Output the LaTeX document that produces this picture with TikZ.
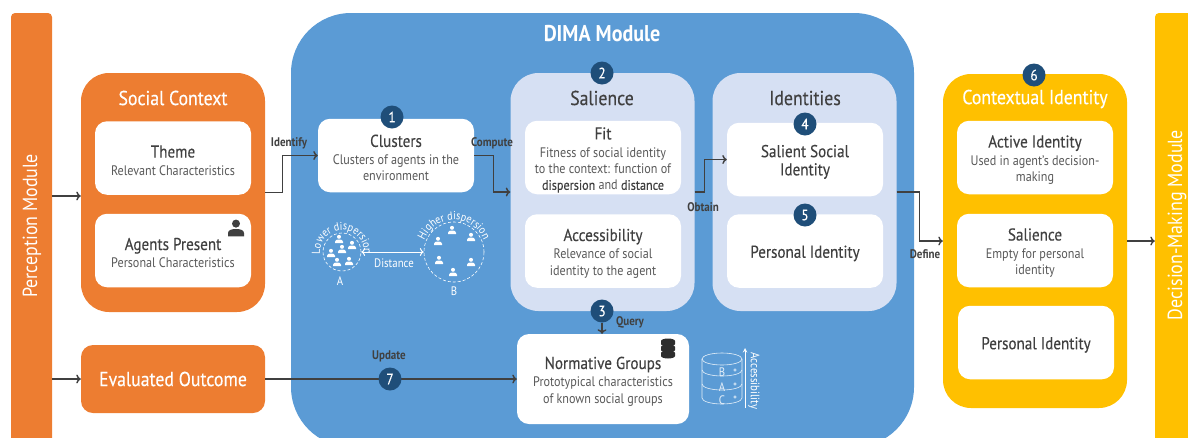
\documentclass[tikz,border=0pt]{standalone}
\usepackage{fontspec}
\setmainfont[FakeStretch=0.88]{PT Sans}
\newfontfamily\medfont[FakeStretch=0.88,FakeBold=0.25]{PT Sans}
\usetikzlibrary{arrows.meta,decorations.text}

\definecolor{orangebox}{HTML}{ED7D31}
\definecolor{bluebox}{HTML}{5B9BD5}
\definecolor{palebox}{HTML}{D6E0F3}
\definecolor{yellowbox}{HTML}{FFC000}
\definecolor{navy}{HTML}{1F4E79}
\definecolor{darktext}{HTML}{404040}
\definecolor{subtext}{HTML}{595959}

\newcommand{\boxhead}[1]{{\medfont\fontsize{17.2}{17}\selectfont\color{darktext}\rule{0pt}{17pt}#1}}
\newcommand{\boxterm}[1]{{\medfont\color{darktext}#1}}

\tikzset{
  panel/.style={rounded corners=28pt,minimum width=184pt,inner sep=0pt},
  card/.style={fill=white,rounded corners=12pt,minimum width=156pt,minimum height=73.5pt,inner sep=0pt,align=center,text=subtext,font=\fontsize{13.8}{16.3}\selectfont},
  badge/.style={circle,fill=navy,text=white,minimum size=23pt,inner sep=0pt,font=\medfont\fontsize{15}{15}\selectfont},
  paneltitle/.style={text=white,inner sep=0pt,font=\medfont\fontsize{20.2}{24}\selectfont},
  palete/.style={text=darktext,inner sep=0pt,font=\medfont\fontsize{20.2}{24}\selectfont},
  flow/.style={draw=darktext,line width=1.4pt,-{To[length=4.5pt,width=9pt]}},
  flowtag/.style={text=darktext,inner sep=0pt,font=\bfseries\fontsize{12.5}{14}\selectfont},
  icontext/.style={text=white,inner sep=0pt,font=\fontsize{12.3}{14}\selectfont},
  stackline/.style={draw=white!85!bluebox,line width=0.6pt},
  person/.pic={
    \fill (0,-2.2) circle (2pt);
    \fill (-4,4.2) -- (-4,2.6) .. controls (-4,0.9) and (-2,0.5) .. (0,0.5) .. controls (2,0.5) and (4,0.9) .. (4,2.6) -- (4,4.2) -- cycle;
  }
}

\begin{document}
\begin{tikzpicture}[x=1pt,y=-1pt]
\useasboundingbox (0,0) rectangle (1188,437);

% side modules
\node[fill=orangebox,rounded corners=4pt,minimum width=41pt,minimum height=440pt,inner sep=0pt] (perception) at (31.5,233) {};
\node[fill=yellowbox,rounded corners=4pt,minimum width=45pt,minimum height=440pt,inner sep=0pt] (decision) at (1177.5,233) {};
\node[rotate=90,text=white,inner sep=0pt,font=\fontsize{20.4}{24}\selectfont] (perceptionlbl) at (32,226) {Perception Module};
\node[rotate=90,text=white,inner sep=0pt,font=\fontsize{20.4}{24}\selectfont] (decisionlbl) at (1177,225) {Decision-Making Module};

% dima module
\node[fill=bluebox,rounded corners=60pt,minimum width=623pt,minimum height=434pt,inner sep=0pt] (dima) at (602.5,230) {};
\node[text=white,inner sep=0pt,font=\bfseries\fontsize{22.8}{26}\selectfont] (dimalbl) at (602,34) {DIMA Module};

% social context
\node[panel,fill=orangebox,minimum height=239pt] (social) at (173,192.5) {};
\node[paneltitle] (sociallbl) at (173,98) {Social Context};
\node[card] (theme) at (173,158) {\boxhead{Theme}\\[1.5pt]Relevant Characteristics};
\node[card] (agents) at (173,250.5) {\boxhead{Agents Present}\\[1.5pt]Personal Characteristics};
\pic[darktext,scale=2] at (236,228) {person};

% evaluated outcome
\node[fill=orangebox,rounded corners=12pt,minimum width=184pt,minimum height=68pt,inner sep=0pt,text=white,font=\medfont\fontsize{20.2}{24}\selectfont] (evaluated) at (173,379) {Evaluated Outcome};

% clusters
\node[card] (clusters) at (396,155.5) {\boxhead{Clusters}\\[1.5pt]Clusters of agents in the\\environment};
\node[circle,draw=white,densely dashed,line width=0.6pt,minimum size=38pt,inner sep=0pt] (groupa) at (342,252) {};
\node[circle,draw=white,densely dashed,line width=0.6pt,minimum size=60pt,inner sep=0pt] (groupb) at (454,252) {};
\foreach \px/\py in {339/239,352/245,342/249,331/253,337/262,349/261}
  \pic[white] at (\px,\py) {person};
\foreach \px/\py in {452/230,471/237,438/241,439/260,471/262,453/272}
  \pic[white] at (\px,\py) {person};
\draw[white,line width=1pt,<->] (groupa.east) -- (groupb.west);
\node[icontext] (distancelbl) at (394,263) {Distance};
\node[icontext] (grouplbla) at (340,281) {A};
\node[icontext] (grouplblb) at (454,291) {B};
\path[decorate,decoration={text along path,text align=center,text color=white,
  text={|\fontsize{11.5}{13}\selectfont|Lower dispersion}}]
  ([shift={(190:22pt)}]groupa.center) arc[start angle=190,end angle=-10,radius=22pt];
\path[decorate,decoration={text along path,text align=center,text color=white,
  text={|\fontsize{11.5}{13}\selectfont|Higher dispersion}}]
  ([shift={(165:32pt)}]groupb.center) arc[start angle=165,end angle=15,radius=32pt];

% salience
\node[panel,fill=palebox,minimum height=238pt] (salience) at (602.5,192) {};
\node[palete] (saliencelbl) at (602,98) {Salience};
\node[card] (fit) at (603,157.5) {\boxhead{Fit}\\[1.5pt]Fitness of social identity\\to the context: function of\\\boxterm{dispersion} and \boxterm{distance}};
\node[card] (access) at (603,251) {\boxhead{Accessibility}\\[1.5pt]Relevance of social\\identity to the agent};

% identities
\node[panel,fill=palebox,minimum height=238pt] (identities) at (804.5,192) {};
\node[palete] (identitieslbl) at (805,98) {Identities};
\node[card] (salient) at (805,159.5) {\boxhead{Salient Social}\\\boxhead{Identity}};
\node[card] (personal) at (805,251) {\boxhead{Personal Identity}};

% normative groups
\node[card,minimum width=172pt,minimum height=90pt] (normative) at (603,379) {\boxhead{Normative Groups}\\[1.5pt]Prototypical characteristics\\of known social groups};
% database icon
\foreach \dy in {0,6,12}{
  \fill[darktext!70!black] (661,341+\dy) arc[start angle=180,end angle=0,x radius=7pt,y radius=2.5pt]
    -- (675,344+\dy) arc[start angle=360,end angle=180,x radius=7pt,y radius=2.5pt] -- cycle;
}
% accessibility stack
\draw[stackline] (722,359) ellipse[x radius=20pt,y radius=6pt];
\draw[stackline] (702,359) -- (702,398) arc[start angle=180,end angle=360,x radius=20pt,y radius=6pt] -- (742,359);
\foreach \sy in {370,384}
  \draw[stackline] (702,\sy) arc[start angle=180,end angle=360,x radius=20pt,y radius=6pt];
\foreach \sy in {370,384,397}
  \draw[stackline] (735,\sy) circle (1.2pt);
\node[icontext,text=white!85!bluebox] (stackb) at (722,372) {B};
\node[icontext,text=white!85!bluebox] (stacka) at (722,387) {A};
\node[icontext,text=white!85!bluebox] (stackc) at (722,400) {C};
\coordinate (axisbottom) at (745,408);
\coordinate (axistop) at (745,348);
\draw[white,line width=1pt,-stealth] (axisbottom) -- (axistop);
\node[rotate=-90,icontext] (axislbl) at (754,381) {Accessibility};

% contextual identity
\node[panel,fill=yellowbox,minimum height=334pt] (contextual) at (1035,241) {};
\node[paneltitle] (contextuallbl) at (1035,99) {Contextual Identity};
\node[card] (active) at (1035,157.5) {\boxhead{Active Identity}\\[1.5pt]Used in agent's decision-\\making};
\node[card] (salcopy) at (1035,250.5) {\boxhead{Salience}\\[1.5pt]Empty for personal\\identity};
\node[card] (perscopy) at (1036,342.5) {\boxhead{Personal Identity}};

% connectors
\draw[flow] ([yshift=-3.5pt]social.west -| perception.east) -- ([yshift=-3.5pt]social.west);
\draw[flow] (evaluated.west -| perception.east) -- (evaluated.west);
\draw[flow] (social.east) -- ++(17,0) |- (clusters.west);
\draw[flow] (clusters.east) -- ++(19,0) |- (salience.west);
\draw[flow] (salience.east) -- ++(10,0) |- (salient.west);
\draw[flow] (identities.east) -- ++(23,0) |- (contextual.west);
\draw[flow] (contextual.east) -- (contextual.east -| decision.west);
\draw[flow] (evaluated.east) -- (normative.west);

% badges
\node[badge] (one) at (392,117) {1};
\node[badge] (two) at (602,73) {2};
\node[badge] (three) at (602,311) {3};
\node[badge] (four) at (805,124) {4};
\node[badge] (five) at (805,215) {5};
\node[badge] (six) at (1034,75) {6};
\node[badge] (seven) at (390,379) {7};
\draw[flow] (three.south) -- (three.south |- normative.north);

% connector tags
\node[flowtag] (identifylbl) at (289,143) {Identify};
\node[flowtag] (computelbl) at (492,143) {Compute};
\node[flowtag] (obtainlbl) at (703,207) {Obtain};
\node[flowtag] (definelbl) at (925,254) {Define};
\node[flowtag] (updatelbl) at (389,356) {Update};
\node[flowtag] (querylbl) at (630,322) {Query};
\end{tikzpicture}
\end{document}
